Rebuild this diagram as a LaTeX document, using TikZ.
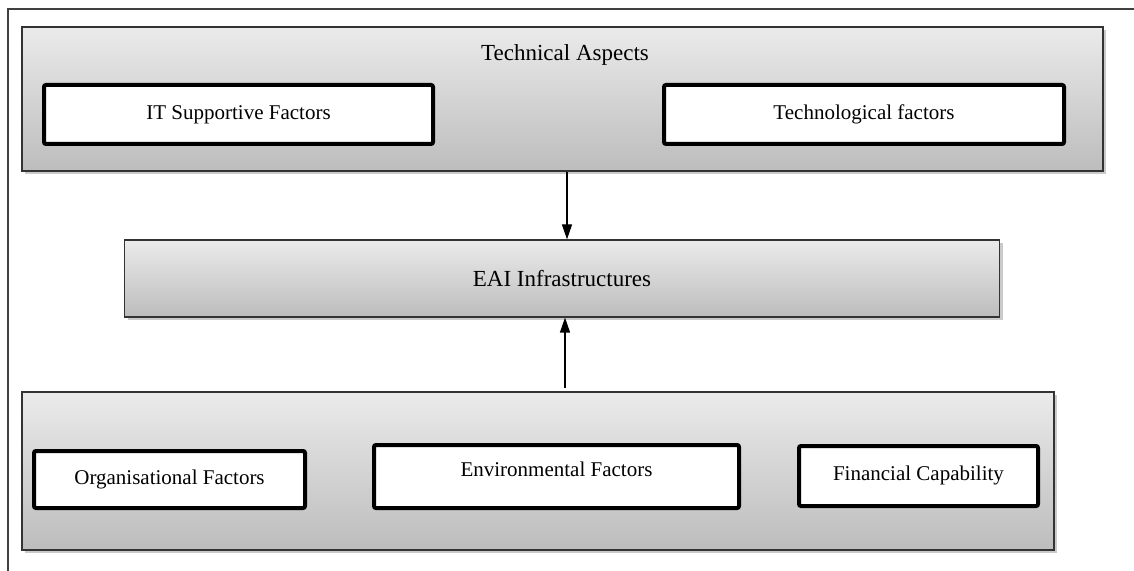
\documentclass[tikz,border=0pt]{standalone}
\usepackage{fontspec}
\setmainfont{Liberation Serif}
\usetikzlibrary{shadows,arrows.meta}
\begin{document}
\begin{tikzpicture}[x=0.5pt,y=-0.5pt,
  group/.style={draw=black!80, line width=0.6pt, top color=black!8, bottom color=black!26,
     drop shadow={shadow xshift=1.5pt, shadow yshift=-1.5pt, opacity=0.35, fill=black!60},
     inner sep=0pt},
  factor/.style={draw=black, line width=2pt, fill=white, rounded corners=1pt,
     font=\fontsize{10.5}{12}\selectfont, inner sep=0pt},
  title/.style={font=\fontsize{11.5}{13}\selectfont, inner sep=0pt},
  arr/.style={line width=0.6pt, -{Triangle[width=5pt,length=7.5pt]}}
]
\useasboundingbox (0,0) rectangle (1134,571);
\draw[black!75, line width=0.6pt] (8,571) -- (8,9) -- (1134,9);

\node[group, minimum width=540.5pt, minimum height=72pt] (tech) at (562.5,99) {};
\node[title] (techt) at (565,55) {Technical Aspects};
\node[factor, minimum width=194.5pt, minimum height=29.5pt] (itf) at (238.5,114.5) {IT Supportive Factors};
\node[factor, minimum width=200pt, minimum height=29.5pt] (tf) at (864,114.5) {Technological factors};

\node[group, minimum width=437.5pt, minimum height=38.5pt, title] (eai) at (562,278.5) {EAI Infrastructures};

\node[group, minimum width=516pt, minimum height=79pt] (org) at (538,471) {};
\node[factor, minimum width=135.5pt, minimum height=28.5pt] (of) at (169.5,479.5) {Organisational Factors};
\node[factor, minimum width=182.5pt, minimum height=31.5pt, text depth=7pt] (ef) at (556.5,476.5) {Environmental Factors};
\node[factor, minimum width=119.5pt, minimum height=30pt, text depth=3pt] (ff) at (918.5,476) {Financial Capability};

\draw[arr] (tech.south -| 567,0) -- (eai.north -| 567,0);
\coordinate (bstart) at (565,388);
\draw[arr] (bstart) -- (eai.south -| bstart);
\end{tikzpicture}
\end{document}
